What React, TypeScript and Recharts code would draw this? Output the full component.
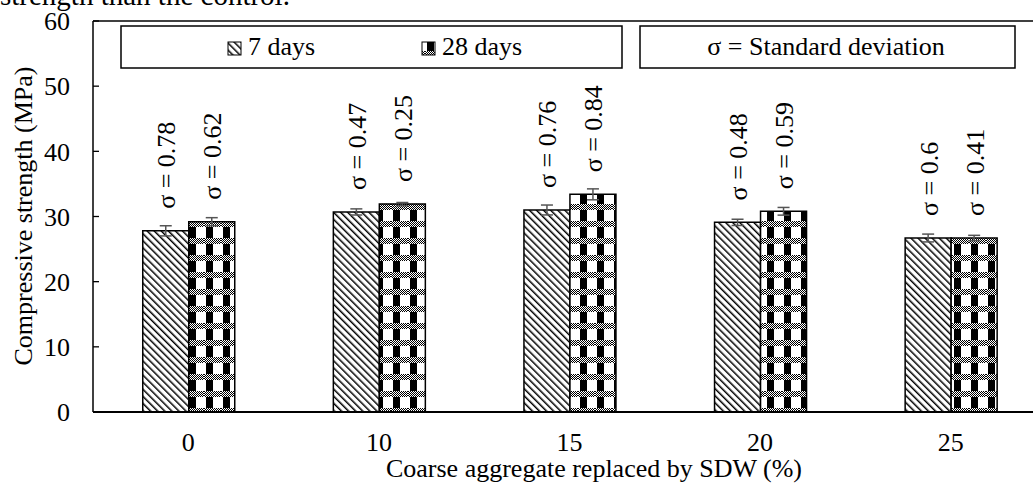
import React from 'react';
import { BarChart, Bar, XAxis, YAxis, ErrorBar, LabelList, ReferenceLine } from 'recharts';

const categories = ['0', '10', '15', '20', '25'];
const strength7 = [27.8, 30.7, 31.0, 29.1, 26.7];
const strength28 = [29.2, 31.9, 33.4, 30.8, 26.7];
const sd7 = [0.78, 0.47, 0.76, 0.48, 0.6];
const sd28 = [0.62, 0.25, 0.84, 0.59, 0.41];
const yTicks = [0, 10, 20, 30, 40, 50, 60];

const data = categories.map((c, i) => ({
  cat: c,
  d7: strength7[i],
  d28: strength28[i],
  sd7: sd7[i],
  sd28: sd28[i],
}));

const FONT = "'Liberation Serif', 'Times New Roman', serif";
const FS = 26;
const Y_TICK_MARGIN = 23;

const YTick = (props: any) => {
  const { x, y, payload } = props;
  const ax = x + Y_TICK_MARGIN;
  return (
    <g>
      <line x1={ax} x2={ax + 6} y1={y} y2={y} stroke="#000" strokeWidth={1.3} />
      <text x={x} y={y} dy="0.355em" textAnchor="end" fontSize={FS} fontFamily={FONT} fill="#000">
        {payload.value}
      </text>
    </g>
  );
};

const SdLabel = (props: any) => {
  const { x, y, width, value } = props;
  const cx = x + width / 2 + 1;
  const cy = y - 22;
  return (
    <text
      x={cx}
      y={cy}
      transform={`rotate(-90, ${cx}, ${cy})`}
      textAnchor="start"
      dominantBaseline="central"
      fontSize={FS}
      fontFamily={FONT}
      fill="#000"
    >
      {`σ = ${value}`}
    </text>
  );
};

const Patterns = () => (
  <svg width={0} height={0} style={{ position: 'absolute' }}>
    <defs>
      <pattern id="diag7" patternUnits="userSpaceOnUse" width={5} height={5} patternTransform="rotate(-45)">
        <rect width={5} height={5} fill="#fff" />
        <rect x={0} y={0} width={1.5} height={5} fill="#000" />
      </pattern>
      <pattern id="dither" patternUnits="userSpaceOnUse" width={2} height={2}>
        <rect width={2} height={2} fill="#fff" />
        <rect x={0} y={0} width={1} height={1} fill="#000" />
        <rect x={1} y={1} width={1} height={1} fill="#000" />
      </pattern>
      <pattern id="check28" patternUnits="userSpaceOnUse" width={17} height={17}>
        <rect width={17} height={17} fill="#fff" />
        <rect x={2} y={0} width={7} height={17} fill="#000" />
        <rect x={0} y={0} width={17} height={6} fill="url(#dither)" />
      </pattern>
    </defs>
  </svg>
);

const Overlay = () => (
  <svg width={1033} height={483} style={{ position: 'absolute', left: 0, top: 0, pointerEvents: 'none' }}>
    <text x={0} y={5} fontSize={29} fontFamily={FONT} fill="#000">strength than the control.</text>
    <rect x={121} y={26} width={501} height={42} fill="#fff" stroke="#000" strokeWidth={1.5} />
    <rect x={228} y={42} width={13} height={13} fill="url(#diag7)" stroke="#000" strokeWidth={1} />
    <text x={248} y={55} fontSize={FS} fontFamily={FONT} fill="#000">7 days</text>
    <rect x={422} y={42} width={13} height={13} fill="url(#check28)" stroke="#000" strokeWidth={1} />
    <text x={442} y={55} fontSize={FS} fontFamily={FONT} fill="#000">28 days</text>
    <rect x={640} y={26} width={375} height={42} fill="#fff" stroke="#000" strokeWidth={1.5} />
    <text x={826} y={55} textAnchor="middle" fontSize={FS} fontFamily={FONT} fill="#000">σ = Standard deviation</text>
  </svg>
);

export default function App() {
  return (
    <div style={{ position: 'fixed', left: 0, top: 0, width: 1033, height: 483, overflow: 'hidden', background: '#fff' }}>
      <Patterns />
      <BarChart
        width={1046}
        height={483}
        data={data}
        margin={{ top: 21, right: 0, bottom: 0, left: 0 }}
        barCategoryGap="26.1%"
        barGap={0}
      >
        <XAxis
          dataKey="cat"
          height={71}
          axisLine={{ stroke: '#000', strokeWidth: 2 }}
          tickLine={false}
          tickSize={0}
          tickMargin={21}
          tick={{ fontSize: FS, fontFamily: FONT, fill: '#000' }}
          label={{
            content: () => (
              <text x={594} y={477} textAnchor="middle" fontSize={FS} fontFamily={FONT} fill="#000">
                Coarse aggregate replaced by SDW (%)
              </text>
            ),
          }}
        />
        <YAxis
          width={93}
          domain={[0, 60]}
          ticks={yTicks}
          interval={0}
          axisLine={{ stroke: '#000', strokeWidth: 1.5 }}
          tickLine={false}
          tickSize={0}
          tickMargin={Y_TICK_MARGIN}
          tick={<YTick />}
          label={{
            content: () => (
              <text
                x={23}
                y={216}
                transform="rotate(-90, 23, 216)"
                textAnchor="middle"
                dominantBaseline="central"
                fontSize={FS}
                fontFamily={FONT}
                fill="#000"
              >
                Compressive strength (MPa)
              </text>
            ),
          }}
        />
        <ReferenceLine y={60} stroke="#000" strokeWidth={1.5} />
        <Bar dataKey="d7" fill="url(#diag7)" stroke="#000" strokeWidth={1.5} isAnimationActive={false}>
          <ErrorBar dataKey="sd7" width={6} stroke="#555" strokeWidth={1.5} direction="y" isAnimationActive={false} />
          <LabelList dataKey="sd7" content={<SdLabel />} />
        </Bar>
        <Bar dataKey="d28" fill="url(#check28)" stroke="#000" strokeWidth={1.5} isAnimationActive={false}>
          <ErrorBar dataKey="sd28" width={6} stroke="#555" strokeWidth={1.5} direction="y" isAnimationActive={false} />
          <LabelList dataKey="sd28" content={<SdLabel />} />
        </Bar>
      </BarChart>
      <Overlay />
    </div>
  );
}
